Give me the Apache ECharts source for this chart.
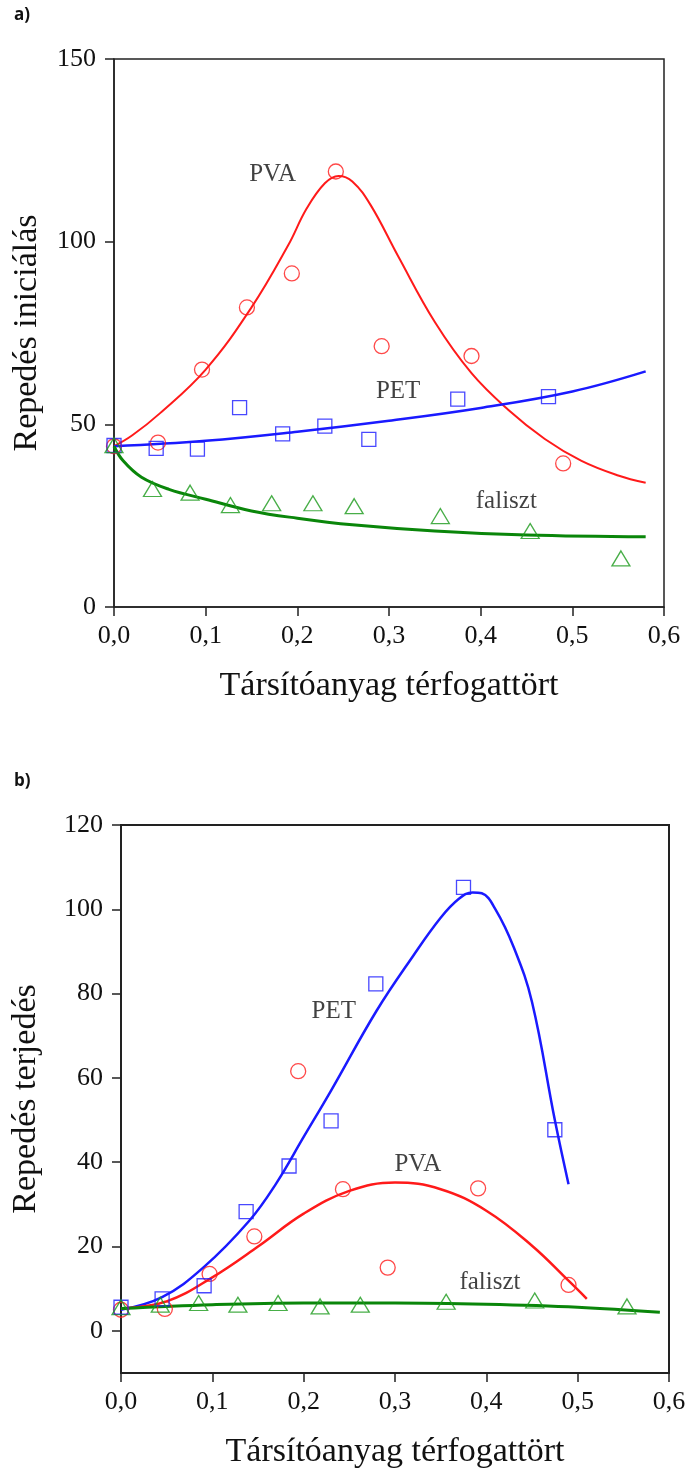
<!DOCTYPE html>
<html lang="hu">
<head>
    <meta charset="UTF-8">
    <title>Repedés</title>
    <script src="https://cdn.jsdelivr.net/npm/echarts@6.0.0/dist/echarts.min.js"></script>
    <style>
        body { margin: 0; background: #fff; }
        #main { width: 689px; height: 1472px; }
    </style>
</head>
<body>
<div id="main"></div>
<script type="text/javascript">
    // a) repedés iniciálás - mért pontok
    var xaPva = [0, 0.048, 0.096, 0.145, 0.194, 0.242, 0.292, 0.39, 0.49];
    var yaPva = [44, 45, 65, 82, 91.3, 119.2, 71.4, 68.7, 39.3];
    var xaPet = [0, 0.046, 0.091, 0.137, 0.184, 0.23, 0.278, 0.375, 0.474];
    var yaPet = [44.2, 43.4, 43.2, 54.6, 47.4, 49.5, 45.9, 56.9, 57.6];
    var xaFal = [0, 0.042, 0.083, 0.127, 0.172, 0.217, 0.262, 0.356, 0.454, 0.553];
    var yaFal = [44.3, 32.3, 31.3, 27.9, 28.4, 28.4, 27.6, 24.9, 20.8, 13.3];

    // a) illesztett görbék
    var xaPvaFit = [0, 0.02, 0.05, 0.1, 0.15, 0.19, 0.21, 0.23, 0.245, 0.26, 0.28, 0.31, 0.35, 0.39, 0.43, 0.47, 0.51, 0.55, 0.58];
    var yaPvaFit = [44, 47, 53, 65, 82, 99, 109, 116, 118, 116.5, 110, 96, 78, 64, 54, 46, 40, 36, 34];
    var xaPetFit = [0, 0.1, 0.2, 0.3, 0.4, 0.5, 0.58];
    var yaPetFit = [44, 45.5, 48, 51, 54.5, 59, 64.5];
    var xaFalFit = [0, 0.01, 0.03, 0.06, 0.1, 0.15, 0.2, 0.26, 0.35, 0.45, 0.58];
    var yaFalFit = [44, 40, 35.5, 32.2, 29.5, 26.3, 24.3, 22.5, 20.8, 19.7, 19.2];

    // b) repedés terjedés - mért pontok
    var xbPva = [0, 0.048, 0.097, 0.146, 0.194, 0.243, 0.292, 0.391, 0.49];
    var ybPva = [5, 5.2, 13.5, 22.4, 61.6, 33.6, 15, 33.8, 10.9];
    var xbPet = [0, 0.045, 0.091, 0.137, 0.184, 0.23, 0.279, 0.375, 0.475];
    var ybPet = [5.6, 7.6, 10.7, 28.3, 39.1, 49.8, 82.3, 105.2, 47.7];
    var xbFal = [0, 0.043, 0.085, 0.128, 0.172, 0.218, 0.262, 0.356, 0.453, 0.554];
    var ybFal = [5.6, 6.2, 6.6, 6.2, 6.6, 5.8, 6.2, 6.9, 7.2, 5.8];

    // b) illesztett görbék
    var xbPetFit = [0, 0.045, 0.09, 0.14, 0.17, 0.2, 0.23, 0.28, 0.32, 0.35, 0.37, 0.385, 0.395, 0.41, 0.43, 0.45, 0.475, 0.49];
    var ybPetFit = [5, 8, 15, 26, 35, 46, 57, 76, 89, 98, 102.5, 104, 103.8, 100, 91, 78, 50, 34.8];
    var xbPvaFit = [0, 0.05, 0.1, 0.15, 0.2, 0.25, 0.3, 0.35, 0.4, 0.45, 0.49, 0.51];
    var ybPvaFit = [5.3, 7, 12.7, 20, 27.8, 33.2, 35.2, 33.6, 28.5, 20.2, 11.9, 7.6];
    var xbFalFit = [0, 0.1, 0.2, 0.3, 0.4, 0.5, 0.59];
    var ybFalFit = [5.3, 6.2, 6.6, 6.6, 6.3, 5.6, 4.4];

    // feliratok (adat koordinátákban)
    var labelNames = ['PVA', 'PET', 'faliszt'];
    var xaLabel = [0.173, 0.31, 0.428];
    var yaLabel = [118.3, 58.9, 29.0];
    var xbLabel = [0.325, 0.233, 0.404];
    var ybLabel = [39.5, 75.7, 11.6];

    var yTicksB = [0, 20, 40, 60, 80, 100, 120];

    var RED = '#ff1a1a', BLUE = '#1a1aff', GREEN = '#0a860a';
    var SERIF = '"Liberation Serif", "DejaVu Serif", serif';

    function pairs(xs, ys) {
        return xs.map(function (x, i) { return [x, ys[i]]; });
    }

    function fitLine(xi, xs, ys, color, w) {
        return {
            type: 'line', xAxisIndex: xi, yAxisIndex: xi,
            data: pairs(xs, ys), smooth: 0.4, showSymbol: false,
            lineStyle: {color: color, width: w}, z: 2
        };
    }

    function points(xi, xs, ys, color, sym, size) {
        return {
            type: 'scatter', xAxisIndex: xi, yAxisIndex: xi,
            data: pairs(xs, ys), symbol: sym, symbolSize: size,
            itemStyle: {color: 'rgba(0,0,0,0)', borderColor: color, borderWidth: 1.3}, z: 3
        };
    }

    function labels(xi, xs, ys) {
        return {
            type: 'scatter', xAxisIndex: xi, yAxisIndex: xi, symbolSize: 0, silent: true,
            data: xs.map(function (x, i) { return {name: labelNames[i], value: [x, ys[i]]}; }),
            label: {show: true, position: 'inside', formatter: '{b}', fontFamily: SERIF, fontSize: 25, color: '#111'}
        };
    }

    function xAxisCfg(gi) {
        return {
            type: 'value', gridIndex: gi, min: 0, max: 0.6, interval: 0.1,
            name: 'Társítóanyag térfogattört', nameLocation: 'middle', nameGap: 62,
            nameTextStyle: {fontFamily: SERIF, fontSize: 34, color: '#111'},
            axisLine: {onZero: false, lineStyle: {color: '#222', width: 1.5}},
            axisTick: {length: 9, lineStyle: {color: '#222', width: 1.5}},
            axisLabel: {
                margin: 16, fontFamily: SERIF, fontSize: 26, color: '#111',
                formatter: function (v) { return v.toFixed(1).replace('.', ','); }
            },
            splitLine: {show: false}
        };
    }

    var myChart = echarts.init(document.getElementById('main'));

    var option = {
        backgroundColor: '#fff',
        animation: false,
        graphic: [
            {type: 'text', left: 14, top: 7, style: {text: 'a)', font: 'bold 17px "Open Sans", sans-serif', fill: '#111'}},
            {type: 'text', left: 14, top: 773, style: {text: 'b)', font: 'bold 17px "Open Sans", sans-serif', fill: '#111'}}
        ],
        grid: [
            {left: 114, top: 59, width: 550, height: 548, show: true, borderColor: '#222', borderWidth: 1.5},
            {left: 121, top: 825, width: 548, height: 548, show: true, borderColor: '#222', borderWidth: 2}
        ],
        xAxis: [xAxisCfg(0), xAxisCfg(1)],
        yAxis: [
            {
                type: 'value', gridIndex: 0, min: 0, max: 150, interval: 50,
                name: 'Repedés iniciálás', nameLocation: 'middle', nameGap: 70,
                nameTextStyle: {fontFamily: SERIF, fontSize: 34, color: '#111'},
                axisLine: {lineStyle: {color: '#222', width: 1.5}},
                axisTick: {length: 9, lineStyle: {color: '#222', width: 1.5}},
                axisLabel: {margin: 18, fontFamily: SERIF, fontSize: 26, color: '#111'},
                splitLine: {show: false}
            },
            {
                type: 'value', gridIndex: 1, min: -10, max: 120,
                name: 'Repedés terjedés', nameLocation: 'middle', nameGap: 78,
                nameTextStyle: {fontFamily: SERIF, fontSize: 34, color: '#111'},
                axisLine: {lineStyle: {color: '#222', width: 2}},
                axisTick: {length: 9, customValues: yTicksB, lineStyle: {color: '#222', width: 1.5}},
                axisLabel: {margin: 18, customValues: yTicksB, fontFamily: SERIF, fontSize: 26, color: '#111'},
                splitLine: {show: false}
            }
        ],
        series: [
            fitLine(0, xaPvaFit, yaPvaFit, RED, 2),
            fitLine(0, xaPetFit, yaPetFit, BLUE, 2.5),
            fitLine(0, xaFalFit, yaFalFit, GREEN, 3),
            points(0, xaPva, yaPva, RED, 'circle', 15),
            points(0, xaPet, yaPet, BLUE, 'rect', 14),
            points(0, xaFal, yaFal, '#1a9a1a', 'triangle', [18, 15]),
            labels(0, xaLabel, yaLabel),

            fitLine(1, xbPetFit, ybPetFit, BLUE, 2.5),
            fitLine(1, xbPvaFit, ybPvaFit, RED, 2.5),
            fitLine(1, xbFalFit, ybFalFit, GREEN, 3),
            points(1, xbPva, ybPva, RED, 'circle', 15),
            points(1, xbPet, ybPet, BLUE, 'rect', 14),
            points(1, xbFal, ybFal, '#1a9a1a', 'triangle', [18, 15]),
            labels(1, xbLabel, ybLabel)
        ]
    };

    myChart.setOption(option);
</script>
</body>
</html>
